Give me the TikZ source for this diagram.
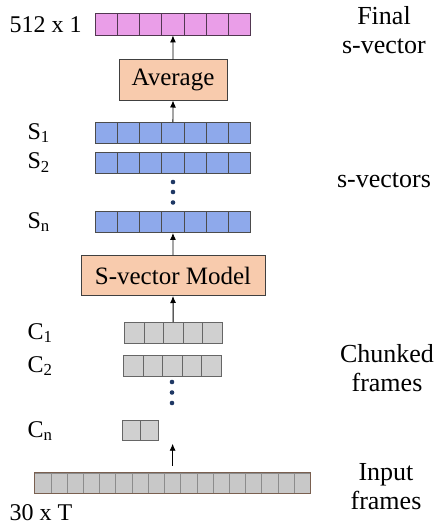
\documentclass[tikz,border=0pt]{standalone}
\usepackage{fontspec}
\setmainfont{Liberation Serif}
\usetikzlibrary{positioning, arrows.meta, calc}

\definecolor{pinkcell}{RGB}{234,158,232}
\definecolor{bluecell}{RGB}{142,169,235}
\definecolor{greycell}{RGB}{208,208,208}
\definecolor{inputcell}{RGB}{200,200,200}
\definecolor{peach}{RGB}{248,203,173}
\definecolor{dotblue}{RGB}{31,56,100}

\tikzset{
	cell/.style={draw, rectangle, inner sep=0pt, anchor=west, line width=0.9pt},
	block/.style={draw=black!75, rectangle, fill=peach, line width=1pt, inner sep=0pt, text centered},
	sidelabel/.style={align=center, font=\fontsize{26}{29}\selectfont},
	rowlabel/.style={anchor=west, font=\fontsize{24}{29}\selectfont},
	flow/.style={-{Latex[length=7pt,width=6pt]}, line width=0.9pt}
}

% one row of cells: name, left x, centre y, count, cell width, cell height, style
\newcommand{\cellrow}[7]{
	\foreach \i in {1,...,#4}
	\node (#1-\i) at ({#2+(\i-1)*#5}, #3) [cell, minimum width=#5pt, minimum height=#6pt, #7]{};
}

\begin{document}
\begin{tikzpicture}[x=1pt, y=-1pt]
		\useasboundingbox (0,0) rectangle (437,527);
		
		% final s-vector
		\cellrow{final}{95}{24}{7}{22.14}{22}{fill=pinkcell, draw=black!65!pinkcell}
		\node (Scritto final) at (6,25) [rowlabel]{512 x 1};
		
		\node (avg) at (173,80) [block, minimum width=108pt, minimum height=40pt,
		font=\fontsize{25}{30}\selectfont]{Average};
		
		% s-vectors
		\cellrow{s1}{95}{133}{7}{22.14}{21}{fill=bluecell, draw=black!70}
		\cellrow{s2}{95}{162.5}{7}{22.14}{21}{fill=bluecell, draw=black!70}
		\cellrow{sn}{95}{222}{7}{22.14}{21}{fill=bluecell, draw=black!70}
		\node (Scritto s1) at (24,133) [rowlabel]{S\textsubscript{1}};
		\node (Scritto s2) at (24,162.5) [rowlabel]{S\textsubscript{2}};
		\node (Scritto sn) at (24,222) [rowlabel]{S\textsubscript{n}};
		\foreach \y in {182,192,202.5}
		\fill[dotblue] (173,\y) circle (2.3pt);
		
		\node (model) at (173,275.5) [block, minimum width=184pt, minimum height=40pt,
		font=\fontsize{25}{30}\selectfont]{S-vector Model};
		
		% chunked frames
		\cellrow{c1}{124}{333}{5}{19.5}{20.7}{fill=greycell, draw=black!60}
		\cellrow{c2}{123}{366}{5}{19.5}{21.5}{fill=greycell, draw=black!60}
		\cellrow{cn}{122}{430.5}{2}{18}{19.5}{fill=greycell, draw=black!60}
		\node (Scritto c1) at (24,333) [rowlabel]{C\textsubscript{1}};
		\node (Scritto c2) at (24,366) [rowlabel]{C\textsubscript{2}};
		\node (Scritto cn) at (24,431) [rowlabel]{C\textsubscript{n}};
		\foreach \y in {382,392.5,403}
		\fill[dotblue] (172,\y) circle (2.3pt);
		
		% input frames
		\cellrow{in}{34.3}{483.3}{17}{16.22}{20}{fill=inputcell, draw=black!45}
		\draw[line width=1pt, draw={rgb,255:red,122;green,96;blue,80}] (in-1.north west) rectangle (in-17.south east);
		\node (Scritto in) at (6,513) [rowlabel]{30 x T};
		
		% right-hand captions
		\node (Scritto final cap) at (384,30) [sidelabel]{Final\\s-vector};
		\node (Scritto s cap) at (384,180) [sidelabel]{s-vectors};
		\node (Scritto c cap) at (387,368) [sidelabel]{Chunked\\frames};
		\node (Scritto in cap) at (386,487) [sidelabel]{Input\\frames};
		
		\draw[flow] (avg.north) -- (final-4.south);
		\draw[flow] (s1-4.north) -- (avg.south);
		\draw[flow] (model.north) -- (sn-4.south);
		\draw[flow] (c1-3.north) -- (model.south);
		\draw[flow, shorten <=7pt, shorten >=3pt] (in-9.north) -- (in-9.north |- cn-1.south);
		\end{tikzpicture}
\end{document}
